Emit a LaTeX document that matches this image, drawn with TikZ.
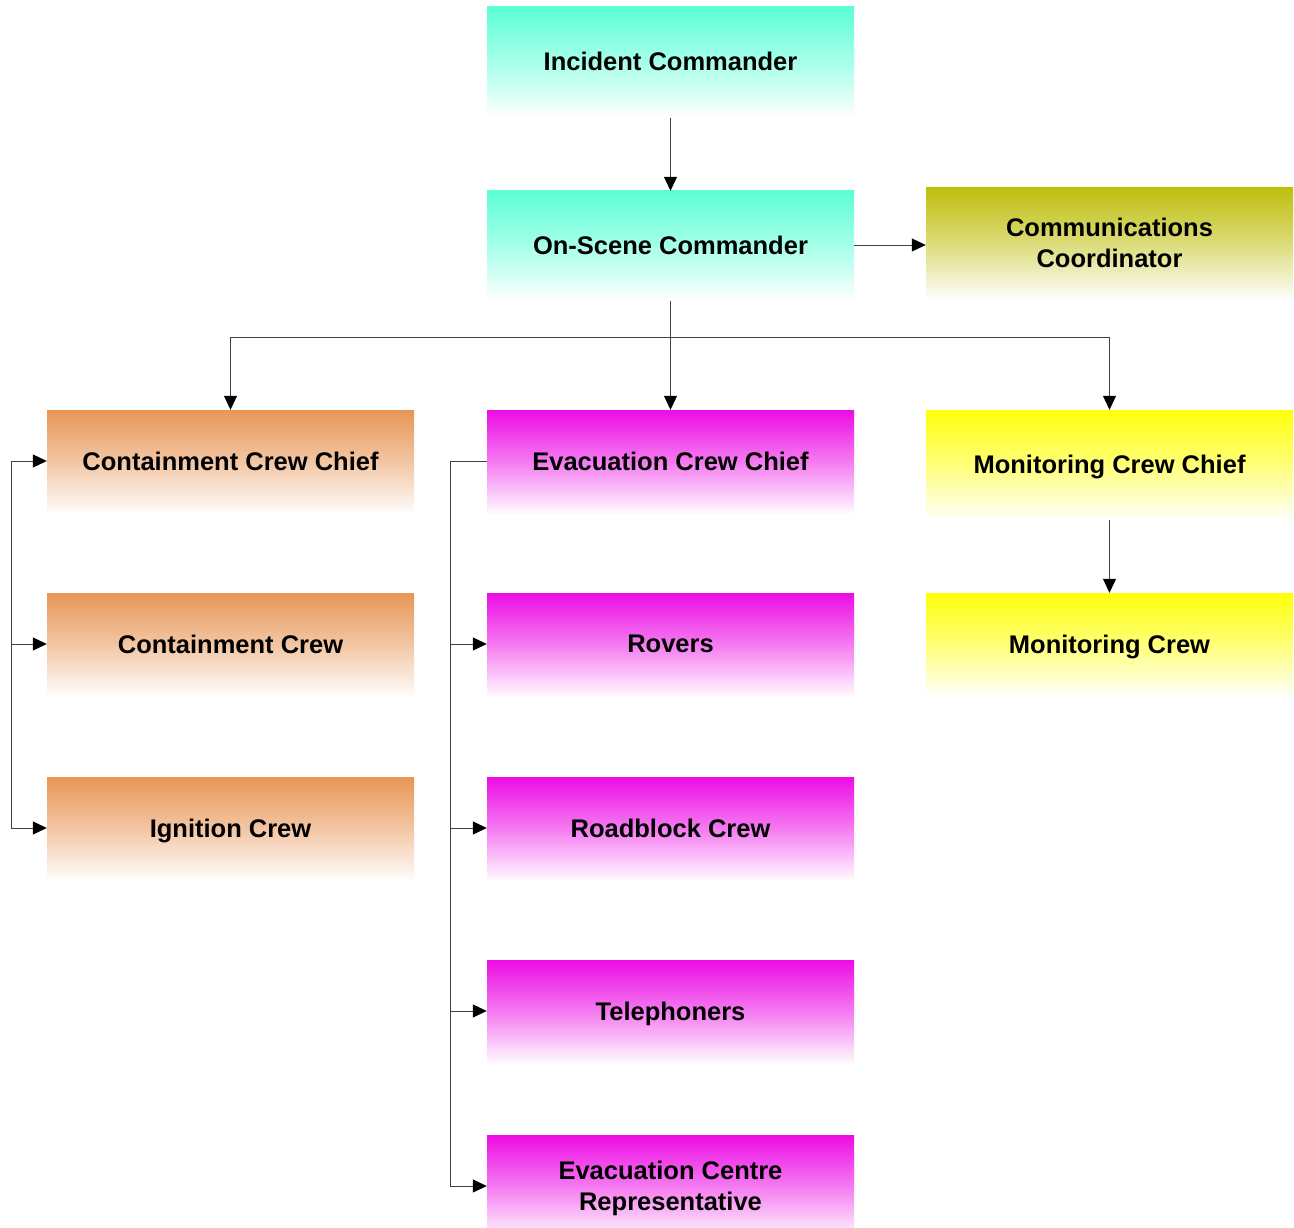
\documentclass[tikz,border=0pt]{standalone}
\usepackage{fontspec}
\setmainfont{Liberation Sans}
\usetikzlibrary{arrows.meta}
\definecolor{aqua}{RGB}{92,255,214}
\definecolor{olive}{RGB}{190,190,12}
\definecolor{peach}{RGB}{232,150,86}
\definecolor{magent}{RGB}{236,12,228}
\definecolor{yell}{RGB}{255,255,10}
\begin{document}
\begin{tikzpicture}[x=1pt,y=-1pt,
  box/.style={minimum width=367pt, inner sep=0pt, align=center, text depth=0pt,
    font=\fontsize{25.5}{31}\selectfont\bfseries,
    shade, top color=#1, bottom color=#1!3, middle color=#1!55},
  link/.style={draw=black!75, line width=1pt},
  arr/.style={link, -{Triangle[length=14pt,width=13pt,fill=black,color=black]}}
]
\useasboundingbox (0,0) rectangle (1294,1228);

% command chain
\node[box=aqua, minimum height=108pt] (ic)  at (670.5,61)  {Incident Commander};
\node[box=aqua, minimum height=108pt] (osc) at (670.5,245) {On-Scene Commander};
\node[box=olive, minimum height=110pt] (comm) at (1109.5,243) {Communications\\Coordinator};

% crew chiefs
\node[box=peach, minimum height=102pt] (ccc) at (230.5,461) {Containment Crew Chief};
\node[box=magent, minimum height=102pt] (ecc) at (670.5,461) {Evacuation Crew Chief};
\node[box=yell, minimum height=108pt] (mcc) at (1109.5,464) {Monitoring Crew Chief};

% crews
\node[box=peach, minimum height=102pt] (cc) at (230.5,644) {Containment Crew};
\node[box=peach, minimum height=102pt] (igc) at (230.5,828) {Ignition Crew};
\node[box=magent, minimum height=102pt] (rov) at (670.5,644) {Rovers};
\node[box=magent, minimum height=102pt] (rbc) at (670.5,828) {Roadblock Crew};
\node[box=magent, minimum height=102pt] (tel) at (670.5,1011) {Telephoners};
\node[box=magent, minimum height=102pt] (ecr) at (670.5,1186) {Evacuation Centre\\Representative};
\node[box=yell, minimum height=102pt] (mc) at (1109.5,644) {Monitoring Crew};

% connectors
\draw[arr] (ic.south) ++(0,3) -- (osc.north);
\draw[arr] (osc.east) -- (osc.east -| comm.west);
\coordinate (split) at (670.5,337);
\draw[arr] (osc.south) ++(0,2) -- (ecc.north);
\draw[arr] (split) -| (ccc.north);
\draw[arr] (split) -| (mcc.north);
\draw[arr] (mcc.south) ++(0,2) -- (mc.north);

% containment bracket
\coordinate (lbar) at (11,461);
\draw[link] (lbar) -- (lbar |- igc.west);
\draw[arr] (lbar) -- (ccc.west);
\draw[arr] (lbar |- cc.west) -- (cc.west);
\draw[arr] (lbar |- igc.west) -- (igc.west);

% evacuation bracket
\coordinate (ebar) at (450,461);
\draw[link] (ecc.west) -- (ebar) -- (ebar |- ecr.west);
\draw[arr] (ebar |- rov.west) -- (rov.west);
\draw[arr] (ebar |- rbc.west) -- (rbc.west);
\draw[arr] (ebar |- tel.west) -- (tel.west);
\draw[arr] (ebar |- ecr.west) -- (ecr.west);
\end{tikzpicture}
\end{document}
